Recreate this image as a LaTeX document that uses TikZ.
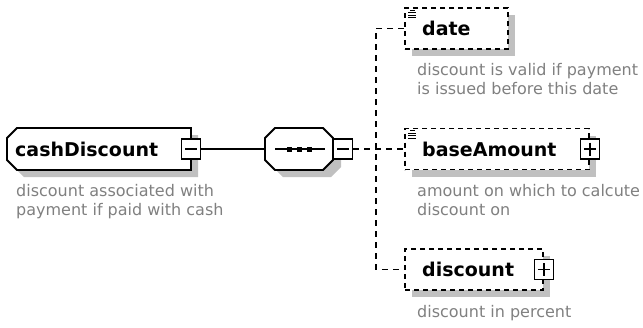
\documentclass[tikz,border=0pt]{standalone}
\usepackage{fontspec}
\setmainfont{DejaVu Sans}
\usetikzlibrary{shadows}
\definecolor{shgray}{RGB}{192,192,192}
\definecolor{descgray}{RGB}{128,128,128}
\tikzset{
  elname/.style={font=\fontsize{19}{23}\selectfont\bfseries, inner sep=0pt, anchor=west},
  desc/.style={font=\fontsize{16}{19}\selectfont, text=descgray, inner sep=0pt, anchor=north west, align=left},
  shad/.style={drop shadow={shadow xshift=7pt, shadow yshift=-7pt, fill=shgray, opacity=1}},
  solidline/.style={draw, line width=1.8pt, fill=white},
  anchorbox/.style={inner sep=0pt, draw=none},
  child/.style={draw, dash pattern=on 5pt off 4pt, line width=1.8pt, fill=white, shad, inner sep=0pt, minimum height=41pt},
  pmbox/.style={draw, fill=white, line width=1.4pt, minimum width=19pt, minimum height=20pt, inner sep=0pt},
  pmminus/.style={path picture={\draw[line width=1.4pt] ([xshift=3.5pt]path picture bounding box.west) -- ([xshift=-3.5pt]path picture bounding box.east);}},
  pmplus/.style={path picture={\draw[line width=1.4pt] ([xshift=3.5pt]path picture bounding box.west) -- ([xshift=-3.5pt]path picture bounding box.east);
      \draw[line width=1.4pt] ([yshift=-3.5pt]path picture bounding box.north) -- ([yshift=3.5pt]path picture bounding box.south);}},
  conn/.style={line width=1.5pt, dash pattern=on 6pt off 5pt},
  docicon/.style={line width=1pt}
}
\begin{document}
\begin{tikzpicture}[x=1pt,y=-1pt]
\useasboundingbox (0,0) rectangle (643,327);
% root element: chamfered left corners
\fill[shgray] (24,135) -- (198,135) -- (198,177) -- (24,177) -- (14,167) -- (14,145) -- cycle;
\path[solidline] (17,128) -- (191,128) -- (191,170) -- (17,170) -- (7,160) -- (7,138) -- cycle;
\node[anchorbox, minimum width=184pt, minimum height=42pt] (cash) at (99,149) {};
\node[elname] (cashlbl) at (15,149) {cashDiscount};
\node[pmbox, pmminus] (cashpm) at (cash.east) {};
\node[desc] (cashdesc) at (16,184) {discount associated with\\payment if paid with cash};
% sequence compositor: octagon
\fill[shgray] (283,136) -- (331,136) -- (341,146) -- (341,167) -- (331,177) -- (283,177) -- (273,167) -- (273,146) -- cycle;
\path[solidline] (275,128) -- (323,128) -- (333,138) -- (333,160) -- (323,170) -- (275,170) -- (265,160) -- (265,138) -- cycle;
\node[anchorbox, minimum width=68pt, minimum height=42pt] (seq) at (299,149) {};
\draw[line width=1.4pt] (seq.center) ++(-24,0) -- ++(50,0);
\fill (seq.center) ++(-12.5,-2.5) rectangle ++(5,5);
\fill (seq.center) ++(-2.5,-2.5) rectangle ++(5,5);
\fill (seq.center) ++(7.5,-2.5) rectangle ++(5,5);
\node[pmbox, pmminus] (seqpm) at (343,149) {};
% children
\node[child, minimum width=103pt] (date) at (456.5,28.5) {};
\node[child, minimum width=184pt] (base) at (497,149) {};
\node[child, minimum width=138pt] (disc) at (474,269.5) {};
\node[elname] (datelbl) at (422,28.5) {date};
\node[elname] (baselbl) at (422,149) {baseAmount};
\node[elname] (disclbl) at (422,269.5) {discount};
\node[pmbox, pmplus] (basepm) at (base.east) {};
\node[pmbox, pmplus] (discpm) at (disc.east) {};
% documentation icons
\foreach \n in {date,base}{
  \draw[docicon] (\n.north west) ++(6,3) -- ++(5,0);
  \draw[docicon] (\n.north west) ++(4,5.5) -- ++(8,0);
  \draw[docicon] (\n.north west) ++(4,8) -- ++(8,0);
  \draw[docicon] (\n.north west) ++(4,10.5) -- ++(8,0);
}
\node[desc] (datedesc) at (417,63.5) {discount is valid if payment\\is issued before this date};
\node[desc] (basedesc) at (417,184.5) {amount on which to calcute\\discount on};
\node[desc] (discdesc) at (417,305.5) {discount in percent};
% connectors
\coordinate (tj) at (376,149);
\draw[line width=1.5pt] (cashpm.east) -- (seq.west);
\draw[conn] (seqpm.east) -- (base.west);
\draw[conn] (date.west) -| (tj) |- (disc.west);
\end{tikzpicture}
\end{document}
